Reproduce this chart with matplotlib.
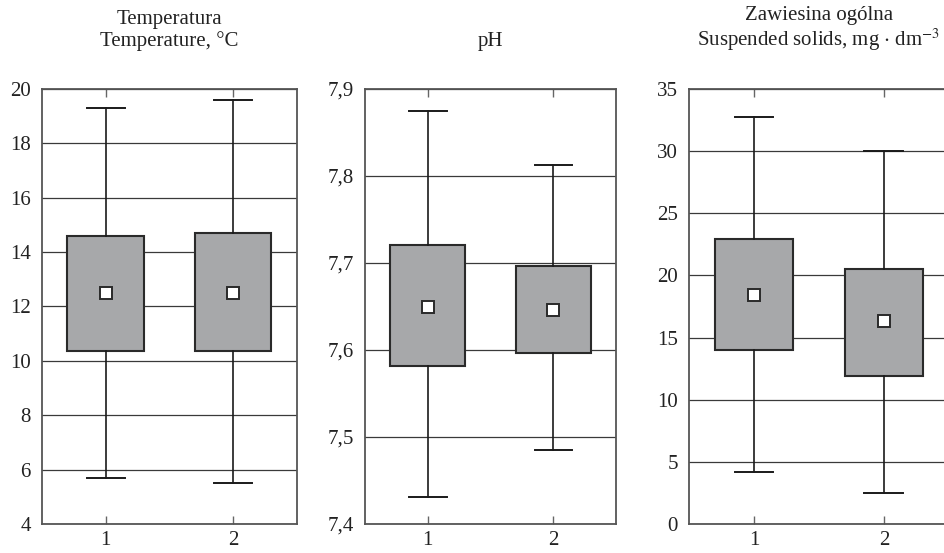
import matplotlib
matplotlib.use('Agg')
import matplotlib.pyplot as plt
from matplotlib.ticker import FuncFormatter

plt.rcParams['font.family'] = ['Liberation Serif', 'DejaVu Serif']
plt.rcParams['mathtext.fontset'] = 'stix'

groups = [1, 2]

# temperatura
temp_whislo = [5.7, 5.5]
temp_q1 = [10.35, 10.35]
temp_mean = [12.5, 12.5]
temp_q3 = [14.6, 14.7]
temp_whishi = [19.3, 19.6]

# pH
ph_whislo = [7.431, 7.485]
ph_q1 = [7.581, 7.597]
ph_mean = [7.649, 7.646]
ph_q3 = [7.721, 7.696]
ph_whishi = [7.874, 7.812]

# zawiesina
ss_whislo = [4.2, 2.5]
ss_q1 = [14.0, 11.9]
ss_mean = [18.4, 16.3]
ss_q3 = [22.9, 20.5]
ss_whishi = [32.7, 30.0]

titles = ['Temperatura\nTemperature, °C',
          'pH',
          'Zawiesina ogólna\nSuspended solids, mg $\\cdot$ dm$^{-3}$']
ylims = [(4, 20), (7.4, 7.9), (0, 35)]
yticks = [[4, 6, 8, 10, 12, 14, 16, 18, 20],
          [7.4, 7.5, 7.6, 7.7, 7.8, 7.9],
          [0, 5, 10, 15, 20, 25, 30, 35]]
decimals = [0, 1, 0]

data = [
    (temp_whislo, temp_q1, temp_mean, temp_q3, temp_whishi),
    (ph_whislo, ph_q1, ph_mean, ph_q3, ph_whishi),
    (ss_whislo, ss_q1, ss_mean, ss_q3, ss_whishi),
]

lefts = [0.0445, 0.3867, 0.730]
widths = [0.270, 0.266, 0.275]
bottom = 0.0524
height = 0.787

fig = plt.figure(figsize=(9.44, 5.53), dpi=100)

for i in range(3):
    ax = fig.add_axes([lefts[i], bottom, widths[i], height])
    lo, q1, mn, q3, hi = data[i]
    stats = []
    for j in range(2):
        stats.append({'whislo': lo[j], 'q1': q1[j], 'med': mn[j], 'q3': q3[j],
                      'whishi': hi[j], 'mean': mn[j]})
    ax.bxp(stats, positions=groups, widths=0.6, patch_artist=True,
           showfliers=False, showmeans=True,
           boxprops=dict(facecolor='#a7a8aa', edgecolor='#2a2a2a', linewidth=1.5),
           whiskerprops=dict(color='#1a1a1a', linewidth=1.2),
           capprops=dict(color='#1a1a1a', linewidth=1.4),
           capwidths=0.3,
           medianprops=dict(linewidth=0),
           meanprops=dict(marker='s', markerfacecolor='white',
                          markeredgecolor='#2a2a2a', markeredgewidth=1.4,
                          markersize=8.5),
           zorder=3)
    ax.set_xlim(0.5, 2.5)
    ax.set_ylim(*ylims[i])
    ax.set_yticks(yticks[i])
    d = decimals[i]
    ax.yaxis.set_major_formatter(FuncFormatter(
        lambda v, p, d=d: ('%.*f' % (d, v)).replace('.', ',')))
    ax.set_xticks(groups)
    ax.set_xticklabels(['1', '2'])
    ax.yaxis.grid(True, color='#3a3a3a', linewidth=0.9)
    ax.set_axisbelow(True)
    ax.tick_params(axis='y', length=0, pad=8, labelsize=15, colors='#222222')
    ax.tick_params(axis='x', direction='in', length=6, width=1, color='#666666',
                   top=True, pad=5, labelsize=15, labelcolor='#222222')
    for s in ax.spines.values():
        s.set_color('#555555')
        s.set_linewidth(1.3)
    ax.set_title(titles[i], fontsize=15, color='#222222', pad=31, linespacing=1.1)

fig.savefig('out.png', dpi=100)
